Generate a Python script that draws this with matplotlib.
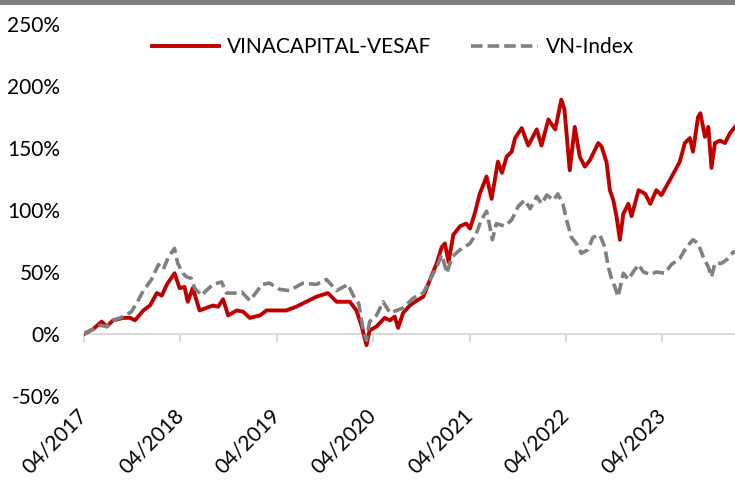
import matplotlib
matplotlib.use("Agg")
from matplotlib import pyplot as plt
from matplotlib.patches import Rectangle
import matplotlib.dates as mdates
import pandas as pd

plt.rcParams['font.family'] = ['Lato', 'DejaVu Sans']

# Fund (VINACAPITAL-VESAF), cumulative return in %
fund_dates = [
    "2017-04-01", "2017-05-06", "2017-06-07", "2017-06-26", "2017-07-20", "2017-08-28",
    "2017-09-23", "2017-10-11", "2017-11-12", "2017-12-07", "2018-01-02", "2018-01-21",
    "2018-02-09", "2018-03-10", "2018-03-29", "2018-04-17", "2018-04-29", "2018-05-18",
    "2018-06-13", "2018-07-08", "2018-08-03", "2018-08-22", "2018-09-10", "2018-09-29",
    "2018-11-01", "2018-11-25", "2018-12-20", "2019-01-28", "2019-02-21", "2019-03-17",
    "2019-04-12", "2019-05-07", "2019-06-14", "2019-07-22", "2019-08-29", "2019-10-12",
    "2019-11-14", "2020-01-03", "2020-01-28", "2020-02-17", "2020-03-06", "2020-03-18",
    "2020-04-13", "2020-05-14", "2020-06-03", "2020-06-21", "2020-07-04", "2020-07-23",
    "2020-08-17", "2020-09-13", "2020-10-07", "2020-11-02", "2020-11-27", "2020-12-16",
    "2020-12-28", "2021-01-11", "2021-01-29", "2021-02-24", "2021-03-19", "2021-04-02",
    "2021-04-20", "2021-05-09", "2021-06-04", "2021-06-23", "2021-07-17", "2021-08-01",
    "2021-08-19", "2021-09-07", "2021-09-20", "2021-10-15", "2021-11-09", "2021-12-11",
    "2021-12-29", "2022-01-24", "2022-02-19", "2022-03-14", "2022-03-26", "2022-04-15",
    "2022-05-04", "2022-05-23", "2022-06-11", "2022-06-30", "2022-08-01", "2022-08-14",
    "2022-09-02", "2022-09-14", "2022-09-27", "2022-10-09", "2022-10-22", "2022-11-04",
    "2022-11-23", "2022-12-05", "2023-01-01", "2023-01-26", "2023-02-14", "2023-03-09",
    "2023-03-28", "2023-04-29", "2023-06-06", "2023-06-25", "2023-07-14", "2023-07-26",
    "2023-08-14", "2023-08-23", "2023-09-09", "2023-09-22", "2023-10-04", "2023-10-17",
    "2023-11-05", "2023-11-24", "2023-12-13", "2024-01-01",
]
fund_values = [
    0, 4, 10, 6, 11, 13,
    13, 11, 19, 23, 33, 31,
    40, 49, 37, 38, 26, 37,
    19, 21, 23, 22, 28, 15,
    19, 18, 13, 15, 19, 19,
    19, 19, 22, 26, 30, 33,
    26, 26, 19, 6, -9, 3,
    6, 13, 11, 14, 5, 17,
    23, 27, 30, 44, 57, 70,
    73, 58, 80, 87, 89, 85,
    97, 113, 127, 109, 139, 130,
    143, 147, 158, 166, 152, 165,
    152, 173, 165, 189, 181, 132,
    167, 143, 135, 140, 154, 151,
    138, 116, 108, 95, 76, 97,
    105, 95, 116, 113, 105, 116,
    112, 124, 139, 154, 158, 147,
    175, 178, 159, 167, 134, 154,
    156, 154, 162, 167,
]

# VN-Index, cumulative return in %
index_dates = [
    "2017-04-01", "2017-05-06", "2017-05-30", "2017-06-26", "2017-07-20", "2017-08-28",
    "2017-09-28", "2017-10-23", "2017-11-12", "2017-12-13", "2018-01-08", "2018-01-26",
    "2018-02-15", "2018-03-10", "2018-03-22", "2018-04-11", "2018-04-24", "2018-05-12",
    "2018-05-25", "2018-06-20", "2018-07-08", "2018-08-03", "2018-09-04", "2018-09-23",
    "2018-10-24", "2018-11-19", "2018-12-20", "2019-01-15", "2019-02-04", "2019-03-05",
    "2019-04-12", "2019-05-19", "2019-07-09", "2019-08-29", "2019-10-06", "2019-11-14",
    "2019-12-27", "2020-01-16", "2020-02-05", "2020-02-23", "2020-03-06", "2020-03-18",
    "2020-04-13", "2020-05-08", "2020-06-03", "2020-06-28", "2020-07-23", "2020-08-30",
    "2020-10-07", "2020-11-02", "2020-11-27", "2020-12-16", "2021-01-05", "2021-01-23",
    "2021-02-24", "2021-04-02", "2021-04-26", "2021-05-15", "2021-06-04", "2021-06-16",
    "2021-06-26", "2021-07-11", "2021-08-12", "2021-09-07", "2021-10-02", "2021-10-27",
    "2021-11-16", "2021-12-11", "2021-12-29", "2022-01-18", "2022-02-13", "2022-03-01",
    "2022-03-20", "2022-04-03", "2022-04-21", "2022-05-10", "2022-05-29", "2022-06-23",
    "2022-07-12", "2022-08-07", "2022-08-26", "2022-09-08", "2022-09-21", "2022-10-03",
    "2022-10-15", "2022-11-04", "2022-11-23", "2022-12-11", "2023-01-01", "2023-01-19",
    "2023-02-14", "2023-03-09", "2023-04-10", "2023-05-05", "2023-06-06", "2023-07-01",
    "2023-07-26", "2023-08-14", "2023-09-03", "2023-09-22", "2023-10-04", "2023-10-17",
    "2023-11-11", "2023-12-01", "2023-12-25", "2024-01-01",
]
index_values = [
    0, 4, 7, 6, 11, 14,
    18, 27, 35, 44, 56, 52,
    62, 69, 57, 49, 46, 45,
    37, 31, 35, 40, 42, 33,
    33, 34, 27, 34, 40, 41,
    36, 35, 41, 40, 44, 35,
    40, 31, 25, 3, -5, 10,
    15, 26, 17, 19, 21, 29,
    33, 44, 54, 64, 49, 62,
    68, 73, 81, 92, 99, 87,
    76, 89, 87, 92, 103, 108,
    101, 111, 105, 112, 108, 113,
    105, 92, 78, 73, 65, 68,
    78, 80, 70, 54, 44, 38,
    30, 49, 44, 50, 56, 50,
    48, 50, 49, 56, 61, 70,
    76, 73, 62, 54, 46, 57,
    57, 60, 66, 66,
]

tick_dates = ["2017-04-01", "2018-04-01", "2019-04-01", "2020-04-01",
              "2021-04-01", "2022-04-01", "2023-04-01"]
tick_labels = ["04/2017", "04/2018", "04/2019", "04/2020",
               "04/2021", "04/2022", "04/2023"]
y_ticks = [-50, 0, 50, 100, 150, 200, 250]

W, H = 735, 487
fig = plt.figure(figsize=(W / 100, H / 100), dpi=100)
ax = fig.add_axes([84 / W, 91 / H, 1 - 84 / W, 372 / H])

fx = mdates.date2num(pd.to_datetime(fund_dates))
ix = mdates.date2num(pd.to_datetime(index_dates))
ax.plot(fx, fund_values, color="#C00000", lw=2.8, zorder=3,
        solid_joinstyle="round", label="VINACAPITAL-VESAF")
ax.plot(ix, index_values, color="#808080", lw=2.6, zorder=4,
        dashes=(3.2, 1.4), label="VN-Index")

ax.set_xlim(mdates.date2num(pd.Timestamp("2017-04-01")),
            mdates.date2num(pd.Timestamp("2024-01-01")))
ax.set_ylim(-50, 250)

# y axis: labels only
ax.set_yticks(y_ticks, [f"{v}%" for v in y_ticks])
ax.tick_params(axis="y", length=0, pad=17, labelsize=15)
for s in ["left", "right", "top"]:
    ax.spines[s].set_visible(False)

# x axis line sits on 0% with small tick marks
tpos = mdates.date2num(pd.to_datetime(tick_dates))
ax.spines["bottom"].set_position(("data", 0))
ax.spines["bottom"].set_color("#D9D9D9")
ax.spines["bottom"].set_linewidth(1.4)
ax.set_xticks(tpos)
ax.tick_params(axis="x", length=6, width=1.4, color="#D9D9D9", labelbottom=False)

# labels at the bottom of the plot
lab = ax.secondary_xaxis("bottom")
lab.set_xticks(tpos, tick_labels)
lab.tick_params(axis="x", length=0, pad=12, labelsize=15)
for t in lab.get_xticklabels():
    t.set_rotation(45)
    t.set_ha("right")
    t.set_va("center")
    t.set_rotation_mode("anchor")
lab.spines["bottom"].set_visible(False)

ax.legend(loc="center", bbox_to_anchor=(0.535, 0.903), bbox_transform=fig.transFigure,
          ncol=2, frameon=False, fontsize=15, handlelength=3.2, handletextpad=0.4,
          columnspacing=1.9)

# grey band along the top edge
fig.add_artist(Rectangle((0, 1 - 5 / H), 1, 5 / H, transform=fig.transFigure,
                         color="#7F7F7F", lw=0))

fig.savefig("out.png", dpi=100)
